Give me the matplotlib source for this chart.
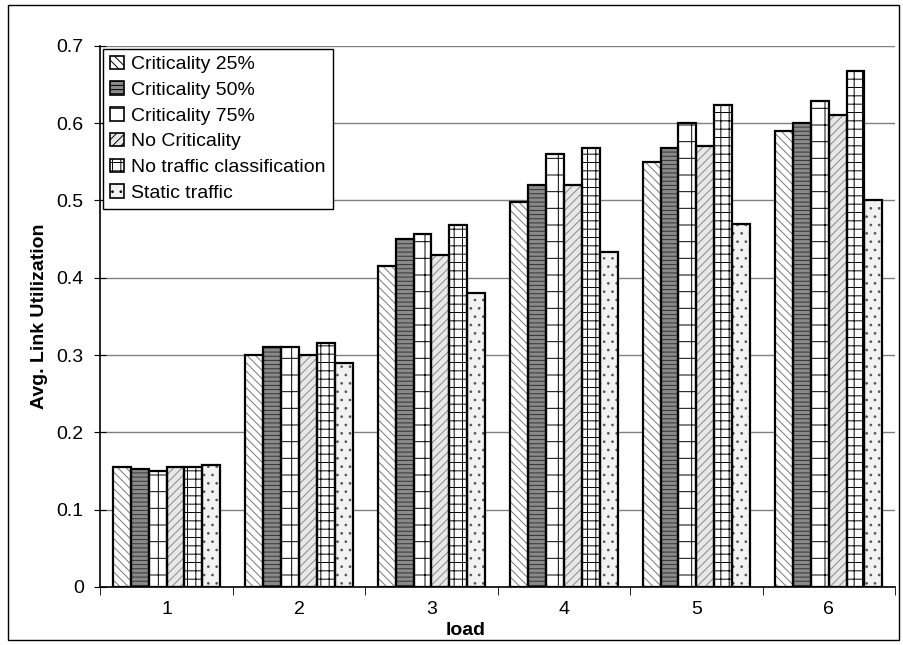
import numpy as np
import matplotlib.pyplot as plt
from matplotlib.patches import Rectangle, Patch

plt.rcParams['font.family'] = ['Liberation Sans', 'DejaVu Sans']
plt.rcParams['hatch.linewidth'] = 0.7

# -----------------------------
# Data
# -----------------------------
loads = ["1", "2", "3", "4", "5", "6"]
series = ["Criticality 25%", "Criticality 50%", "Criticality 75%",
          "No Criticality", "No traffic classification", "Static traffic"]
crit25 = [0.155, 0.300, 0.415, 0.498, 0.550, 0.590]
crit50 = [0.153, 0.310, 0.450, 0.520, 0.568, 0.600]
crit75 = [0.150, 0.310, 0.457, 0.560, 0.600, 0.628]
no_crit = [0.155, 0.300, 0.430, 0.520, 0.570, 0.610]
no_class = [0.155, 0.315, 0.468, 0.568, 0.623, 0.667]
static = [0.158, 0.290, 0.380, 0.433, 0.470, 0.500]
values = [crit25, crit50, crit75, no_crit, no_class, static]

# styles: facecolor, hatch, hatch color
styles = [
    ("white", "\\\\\\\\", "#777777"),
    ("#8a8a8a", "----", "#333333"),
    ("white", "+", "black"),
    ("#e8e8e8", "////", "#888888"),
    ("white", "++", "black"),
    ("#f2f2f2", "..", "#555555"),
]

# -----------------------------
# Plot
# -----------------------------
fig = plt.figure(figsize=(9.04, 6.45), dpi=100)
ax = fig.add_axes([0.111, 0.09, 0.879, 0.839])

x = np.arange(len(loads))
n = len(series)
group_w = 0.81
bw = group_w / n
for i, (vals, (fc, hatch, hc)) in enumerate(zip(values, styles)):
    pos = x - group_w / 2 + bw * (i + 0.5)
    ax.bar(pos, vals, bw, facecolor=fc, edgecolor=hc, hatch=hatch,
           linewidth=0, zorder=2)
    ax.bar(pos, vals, bw, facecolor="none", edgecolor="black",
           linewidth=1.6, zorder=3)

ax.set_xlim(-0.5, len(loads) - 0.5)
ax.set_ylim(0, 0.7)
ax.set_yticks(np.arange(0, 0.71, 0.1))
ax.set_yticklabels(["0", "0.1", "0.2", "0.3", "0.4", "0.5", "0.6", "0.7"], fontsize=14)
ax.set_xticks(x)
ax.set_xticklabels(loads, fontsize=14)
ax.set_xticks(np.arange(-0.5, len(loads), 1), minor=True)
ax.tick_params(axis="x", which="major", length=0, pad=10)
ax.tick_params(axis="x", which="minor", length=6, direction="out")
ax.tick_params(axis="y", length=8, direction="inout", pad=8)
ax.grid(axis="y", color="#808080", linewidth=1, zorder=0)
ax.set_axisbelow(True)
for s in ["top", "right"]:
    ax.spines[s].set_visible(False)
ax.spines["left"].set_linewidth(1.2)
ax.spines["bottom"].set_linewidth(1.2)

ax.set_ylabel("Avg. Link Utilization", fontsize=14, fontweight="bold", labelpad=6)
ax.set_xlabel("load", fontsize=14, fontweight="bold")
ax.xaxis.set_label_coords(0.46, -0.065)

# legend with black-framed swatches
handles = [Patch(facecolor=fc, edgecolor="black", hatch=h, linewidth=1.2, label=lab)
           for (fc, h, hc), lab in zip(styles, series)]
leg = ax.legend(handles=handles, loc="upper left", fontsize=14, frameon=True,
                fancybox=False, edgecolor="black", framealpha=1,
                handlelength=0.7, handleheight=0.7, handletextpad=0.4,
                borderaxespad=0.15, labelspacing=0.42, borderpad=0.35)
leg.get_frame().set_linewidth(1)

# outer frame around the whole chart
fig.patches.append(Rectangle((0.009, 0.008), 0.985, 0.985, transform=fig.transFigure,
                             fill=False, edgecolor="black", linewidth=1))

plt.savefig("out.png", dpi=100)
